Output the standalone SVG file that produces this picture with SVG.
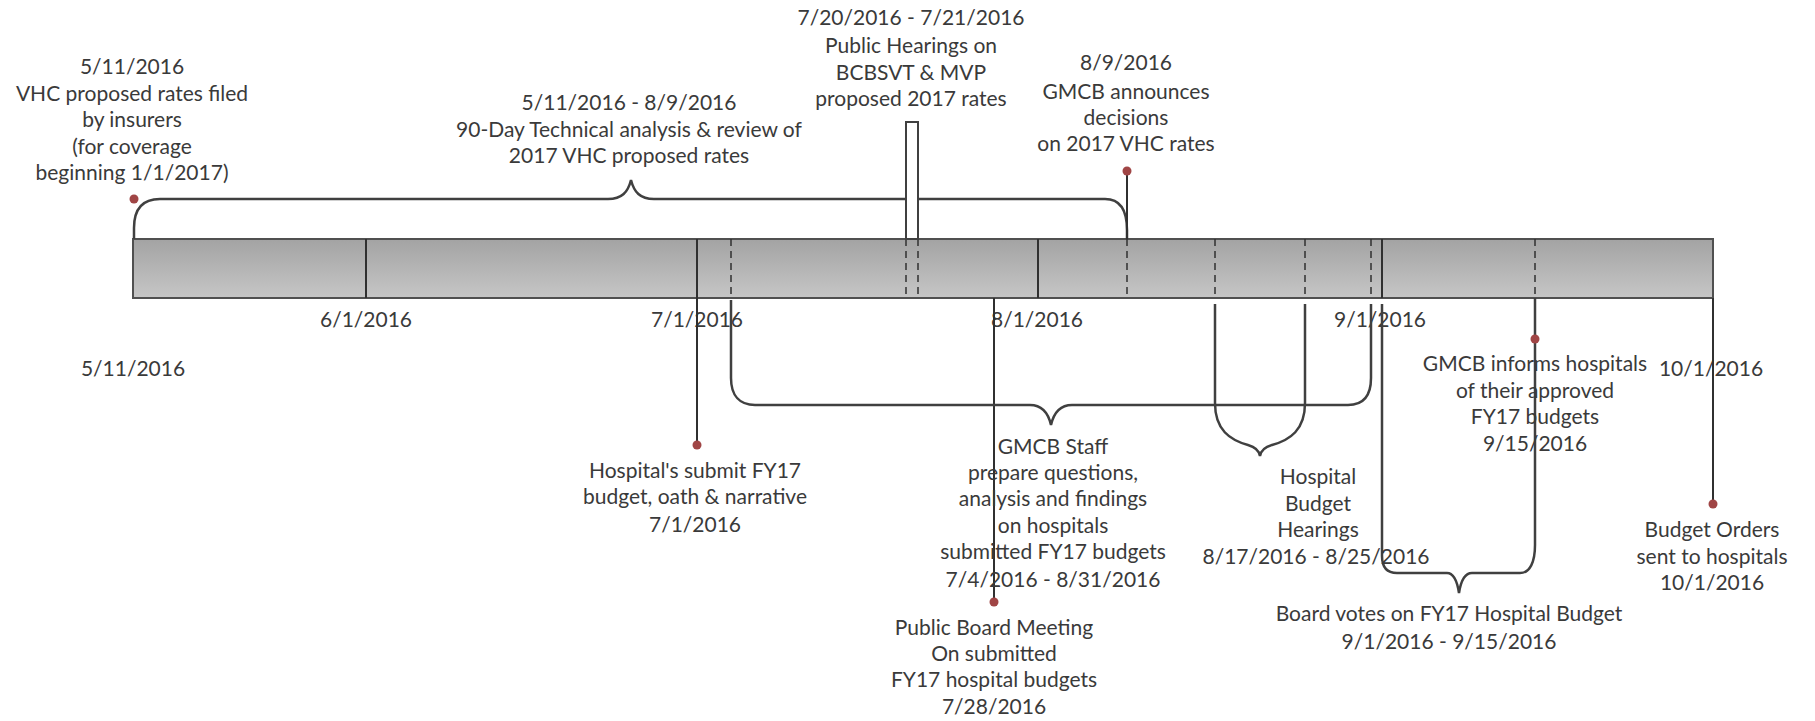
<svg xmlns="http://www.w3.org/2000/svg" width="1815" height="721" viewBox="0 0 1815 721">
<style>
text{font-family:Lato,"Liberation Sans",sans-serif;font-size:21px;fill:#3a3a3a;text-anchor:middle}
.brace{fill:none;stroke:#404040;stroke-width:2.5}
.tick{stroke:#303030;stroke-width:2;fill:none}
.dash{stroke:#303030;stroke-width:1.5;stroke-dasharray:7,5;fill:none}
.dot{fill:#a04545}
</style>
<defs>
<linearGradient id="g" x1="0" y1="0" x2="0" y2="1">
<stop offset="0" stop-color="#a3a3a3"/>
<stop offset="1" stop-color="#c6c6c6"/>
</linearGradient>
</defs>
<rect width="1815" height="721" fill="#fff"/>
<g id="bar">
<rect x="133" y="239" width="1580" height="59" fill="url(#g)" stroke="#505050" stroke-width="2"/>
<path class="tick" d="M366,239V298M697,239V298M1038,239V298M1382,239V298"/>
<path class="dash" d="M731,239V298M906,239V298M918,239V298M1127,239V298M1215,239V298M1305,239V298M1371,239V298M1535,239V298"/>
</g>
<g id="axis-labels">
<text x="366" y="327">6/1/2016</text>
<text x="697" y="327">7/1/2016</text>
<text x="1037" y="327">8/1/2016</text>
<text x="1380" y="327">9/1/2016</text>
<text x="133" y="376">5/11/2016</text>
<text x="1711" y="376">10/1/2016</text>
</g>
<g id="connectors">
<path class="brace" d="M134,239V228Q134,199 160,199H608C622,199 628,192 631,180C634,192 640,199 654,199H1105C1120,199 1127,210 1127,230V239"/>
<path class="tick" d="M1127,171V239"/>
<rect x="906" y="122" width="12" height="117" fill="#fff" stroke="#404040" stroke-width="2"/>
<path class="tick" d="M697,298V445M994,298V602M1713,298V504"/>
<path class="brace" d="M731,300V378C731,396 740,405 755,405H1030C1042,405 1048,412 1051,425C1054,412 1060,405 1072,405H1348C1363,405 1371,396 1371,378V304"/>
<path class="brace" d="M1215,304V403C1215,430 1230,440 1248,445C1255,447 1259,450 1260,456C1261,450 1265,447 1272,445C1290,440 1305,430 1305,403V304"/>
<path class="brace" d="M1382,304V556C1382,566 1386,573 1397,573H1447C1453,573 1457,580 1459,593C1461,580 1465,573 1472,573H1520C1530,573 1535,562 1535,545V298"/>
</g>
<g id="n-vhc-filed">
<circle class="dot" cx="134" cy="199" r="4.5"/>
<text x="132" y="74">5/11/2016</text>
<text x="132" y="101">VHC proposed rates filed</text>
<text x="132" y="127">by insurers</text>
<text x="132" y="154">(for coverage</text>
<text x="132" y="180">beginning 1/1/2017)</text>
</g>
<g id="n-review">
<text x="629" y="110">5/11/2016 - 8/9/2016</text>
<text x="629" y="137">90-Day Technical analysis &amp; review of</text>
<text x="629" y="163">2017 VHC proposed rates</text>
</g>
<g id="n-public-hearings">
<text x="911" y="25">7/20/2016 - 7/21/2016</text>
<text x="911" y="53">Public Hearings on</text>
<text x="911" y="80">BCBSVT &amp; MVP</text>
<text x="911" y="106">proposed 2017 rates</text>
</g>
<g id="n-decisions">
<circle class="dot" cx="1127" cy="171" r="4.5"/>
<text x="1126" y="70">8/9/2016</text>
<text x="1126" y="99">GMCB announces</text>
<text x="1126" y="125">decisions</text>
<text x="1126" y="151">on 2017 VHC rates</text>
</g>
<g id="n-hospital-submit">
<circle class="dot" cx="697" cy="445" r="4.5"/>
<text x="695" y="478">Hospital's submit FY17</text>
<text x="695" y="504">budget, oath &amp; narrative</text>
<text x="695" y="532">7/1/2016</text>
</g>
<g id="n-staff">
<text x="1053" y="454">GMCB Staff</text>
<text x="1053" y="480">prepare questions,</text>
<text x="1053" y="506">analysis and findings</text>
<text x="1053" y="533">on hospitals</text>
<text x="1053" y="559">submitted FY17 budgets</text>
<text x="1053" y="587">7/4/2016 - 8/31/2016</text>
</g>
<g id="n-board-meeting">
<circle class="dot" cx="994" cy="602" r="4.5"/>
<text x="994" y="635">Public Board Meeting</text>
<text x="994" y="661">On submitted</text>
<text x="994" y="687">FY17 hospital budgets</text>
<text x="994" y="714">7/28/2016</text>
</g>
<g id="n-hearings">
<text x="1318" y="484">Hospital</text>
<text x="1318" y="511">Budget</text>
<text x="1318" y="537">Hearings</text>
<text x="1316" y="564">8/17/2016 - 8/25/2016</text>
</g>
<g id="n-informs">
<circle class="dot" cx="1535" cy="339" r="4.5"/>
<text x="1535" y="371">GMCB informs hospitals</text>
<text x="1535" y="398">of their approved</text>
<text x="1535" y="424">FY17 budgets</text>
<text x="1535" y="451">9/15/2016</text>
</g>
<g id="n-votes">
<text x="1449" y="621">Board votes on FY17 Hospital Budget</text>
<text x="1449" y="649">9/1/2016 - 9/15/2016</text>
</g>
<g id="n-orders">
<circle class="dot" cx="1713" cy="504" r="4.5"/>
<text x="1712" y="537">Budget Orders</text>
<text x="1712" y="564">sent to hospitals</text>
<text x="1712" y="590">10/1/2016</text>
</g>
</svg>
